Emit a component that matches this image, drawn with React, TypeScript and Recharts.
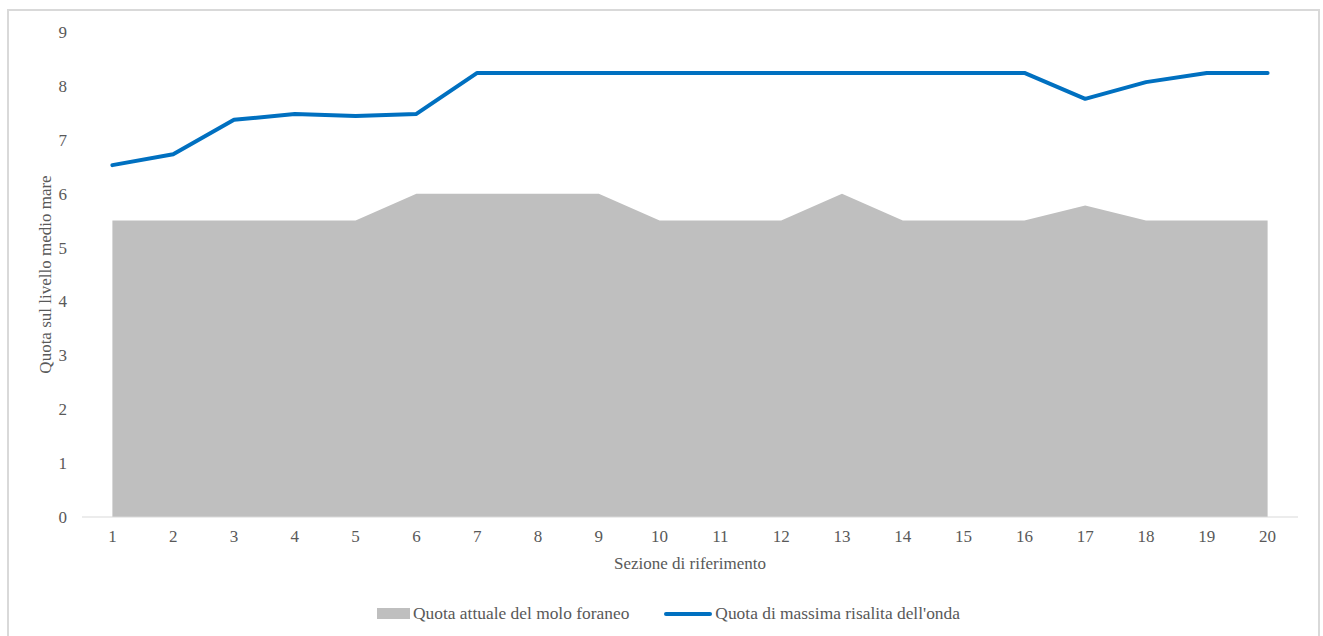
import { ComposedChart, Area, Line, XAxis, YAxis, Legend } from 'recharts'

const sections = [1, 2, 3, 4, 5, 6, 7, 8, 9, 10, 11, 12, 13, 14, 15, 16, 17, 18, 19, 20]
const quotaMolo = [5.5, 5.5, 5.5, 5.5, 5.5, 6, 6, 6, 6, 5.5, 5.5, 5.5, 6, 5.5, 5.5, 5.5, 5.78, 5.5, 5.5, 5.5]
const quotaRisalita = [6.53, 6.73, 7.37, 7.48, 7.44, 7.48, 8.24, 8.24, 8.24, 8.24, 8.24, 8.24, 8.24, 8.24, 8.24, 8.24, 7.76, 8.07, 8.24, 8.24]
const yTicks = [0, 1, 2, 3, 4, 5, 6, 7, 8, 9]
const boundaries = [...sections.map(s => s - 0.5), 20.5]

const FONT = '"Liberation Serif", "Times New Roman", serif'
const TXT = '#595959'
const GRAY = '#bfbfbf'
const BLUE = '#0070c0'

const data = sections.map((s, i) => ({ sez: s, molo: quotaMolo[i], onda: quotaRisalita[i] }))

function LegendBox() {
  return (
    <div style={{ display: 'flex', justifyContent: 'center', alignItems: 'center', fontFamily: FONT, fontSize: 17.4, color: TXT, paddingLeft: 14 }}>
      <span style={{ display: 'inline-block', width: 33, height: 11, background: GRAY, marginRight: 3 }} />
      <span>Quota attuale del molo foraneo</span>
      <span style={{ display: 'inline-block', width: 48, height: 4, borderRadius: 2, background: BLUE, marginLeft: 35, marginRight: 3 }} />
      <span>Quota di massima risalita dell'onda</span>
    </div>
  )
}

export default function App() {
  return (
    <div style={{ position: 'absolute', left: 0, top: 0, width: 1323, height: 636, background: '#fff', overflow: 'hidden' }}>
      <div style={{ position: 'absolute', left: 7, top: 9, width: 1309, height: 640, border: '2px solid #d9d9d9' }} />
      <ComposedChart width={1323} height={636} data={data} margin={{ top: 32, right: 25, bottom: 49, left: 0 }}>
        {/* axis line with tick marks between the sections */}
        <XAxis dataKey="sez" type="number" domain={[0.5, 20.5]} ticks={boundaries} tick={false}
          height={1} tickSize={5} axisLine={{ stroke: '#d9d9d9' }} tickLine={{ stroke: '#d9d9d9' }} />
        {/* section labels */}
        <XAxis xAxisId="lbl" dataKey="sez" type="number" domain={[0.5, 20.5]} ticks={sections} height={29}
          axisLine={false} tickLine={false} tickSize={0} tickMargin={12}
          tick={{ fill: TXT, fontSize: 17, fontFamily: FONT }}
          label={{ value: 'Sezione di riferimento', position: 'bottom', offset: 10, fill: TXT, fontSize: 17, fontFamily: FONT }} />
        <YAxis domain={[0, 9]} ticks={yTicks} width={82} axisLine={false} tickLine={false} tickSize={0} tickMargin={15}
          tick={{ fill: TXT, fontSize: 17, fontFamily: FONT }}
          label={{ value: 'Quota sul livello medio mare', angle: -90, position: 'center', dx: 4, fill: TXT, fontSize: 17, fontFamily: FONT }} />
        <Legend verticalAlign="bottom" height={40} content={() => <LegendBox />}
          wrapperStyle={{ top: 603, bottom: 'auto', left: 0, width: 1323 }} />
        <Area type="linear" dataKey="molo" name="Quota attuale del molo foraneo" stroke="none" fill={GRAY} fillOpacity={1} isAnimationActive={false} />
        <Line xAxisId="lbl" type="linear" dataKey="molo" stroke="none" dot={false} legendType="none" activeDot={false} isAnimationActive={false} />
        <Line type="linear" dataKey="onda" name="Quota di massima risalita dell'onda" stroke={BLUE} strokeWidth={4} dot={false} strokeLinecap="round" strokeLinejoin="round" isAnimationActive={false} />
      </ComposedChart>
    </div>
  )
}
